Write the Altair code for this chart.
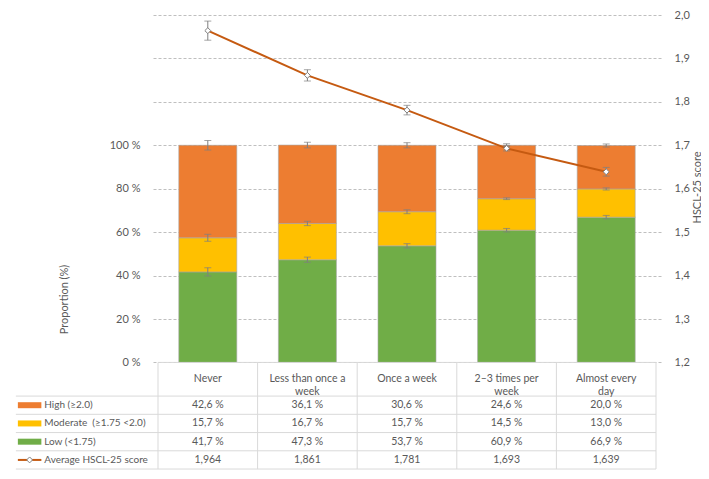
import altair as alt
import pandas as pd

# ---------------- data ----------------
categories = ["Never", "Less than once a week", "Once a week", "2–3 times per week", "Almost every day"]
header_labels = ["Never", "Less than once a\nweek", "Once a week", "2–3 times per\nweek", "Almost every\nday"]

high = [42.6, 36.1, 30.6, 24.6, 20.0]
moderate = [15.7, 16.7, 15.7, 14.5, 13.0]
low = [41.7, 47.3, 53.7, 60.9, 66.9]
score = [1.964, 1.861, 1.781, 1.693, 1.639]

# estimated error-bar half widths
high_err = [2.2, 1.3, 1.2, 0.7, 0.7]
moderate_err = [1.6, 1.0, 0.9, 0.4, 0.5]
low_err = [1.9, 1.2, 1.0, 0.8, 0.8]
score_err = [0.022, 0.013, 0.011, 0.006, 0.010]

series_names = ["Low (<1.75)", "Moderate  (≥1.75 <2.0)", "High (≥2.0)"]
series_colors = ["#70AD47", "#FFC000", "#ED7D31"]
line_label = "Average HSCL-25 score"

left_ticks = [0, 20, 40, 60, 80, 100]
right_ticks = [1.2, 1.3, 1.4, 1.5, 1.6, 1.7, 1.8, 1.9, 2.0]

# ---------------- styling / layout ----------------
FONT = "Lato"
TXT = "#595959"
GRID = "#BFBFBF"
TABLE_LINE = "#D9D9D9"
LINE_COLOR = "#C55A11"
ERR_COLOR = "#7F7F7F"

n = len(categories)
pos = [i + 0.5 for i in range(n)]

xscale = alt.Scale(domain=[0, n], nice=False, zero=False)
yscale = alt.Scale(domain=[-50, 160], nice=False, zero=False)
y2scale = alt.Scale(domain=[0.95, 2.0], nice=False, zero=False)

# table layout (in left-axis units, below 0)
row_edges = [0, -15.5, -23.9, -32.3, -40.7, -49.1]
left_edge = -1.427
swatch_x0, swatch_x1 = -1.407, -1.171
label_x = -1.142

# ---------------- frames ----------------
bar_rows = []
for i in range(n):
    base = 0.0
    for name, vals, errs in [(series_names[0], low, low_err),
                             (series_names[1], moderate, moderate_err),
                             (series_names[2], high, high_err)]:
        top = base + vals[i]
        bar_rows.append(dict(pos=pos[i], series=name, start=base, end=top,
                             lo=top - errs[i], hi=top + errs[i]))
        base = top
bars_df = pd.DataFrame(bar_rows)

score_df = pd.DataFrame(dict(pos=pos, score=score,
                             lo=[s - e for s, e in zip(score, score_err)],
                             hi=[s + e for s, e in zip(score, score_err)]))

X = lambda f: alt.X(f, type="quantitative", scale=xscale, axis=None)
Y = lambda f: alt.Y(f, type="quantitative", scale=yscale, axis=None)
Y2s = lambda f: alt.Y(f, type="quantitative", scale=y2scale, axis=None)

left_axis = alt.Axis(orient="left", values=left_ticks, grid=False, domain=False, ticks=False,
                     labelExpr="datum.value + ' %'", labelPadding=13,
                     title="Proportion (%)", titleX=-89, titleY=284,
                     titleAngle=270, titleAlign="center", titleBaseline="middle")
right_axis = alt.Axis(orient="right", values=right_ticks, grid=True, gridDash=[3, 2],
                      gridColor=GRID, gridWidth=1, domain=False, ticks=False,
                      labelExpr="replace(format(datum.value, '.1f'), '.', ',')",
                      labelPadding=13, title="HSCL-25 score", titleX=36, titleY=172,
                      titleAngle=270, titleAlign="center", titleBaseline="middle")

color_enc = alt.Color("series:N", scale=alt.Scale(domain=series_names, range=series_colors), legend=None)

bars = alt.Chart(bars_df).mark_bar(size=58, stroke="#A6A6A6", strokeWidth=0.6).encode(
    x=X("pos"), y=alt.Y("start:Q", scale=yscale, axis=left_axis), y2="end:Q", color=color_enc)

err_rule = alt.Chart(bars_df).mark_rule(color=ERR_COLOR, strokeWidth=1).encode(
    x=X("pos"), y=Y("lo"), y2="hi:Q")
err_cap_lo = alt.Chart(bars_df).mark_tick(orient="horizontal", size=7, thickness=1, color=ERR_COLOR).encode(
    x=X("pos"), y=Y("lo"))
err_cap_hi = alt.Chart(bars_df).mark_tick(orient="horizontal", size=7, thickness=1, color=ERR_COLOR).encode(
    x=X("pos"), y=Y("hi"))

# table lines
seg = []
seg.append(dict(x=0, x2=n, y=row_edges[0], y2=row_edges[0]))
for e in row_edges[1:]:
    seg.append(dict(x=left_edge, x2=n, y=e, y2=e))
for k in range(n + 1):
    seg.append(dict(x=k, x2=k, y=row_edges[0], y2=row_edges[-1]))
seg_df = pd.DataFrame(seg)
table_lines = alt.Chart(seg_df).mark_rule(color=TABLE_LINE, strokeWidth=1).encode(
    x=X("x"), x2="x2:Q", y=Y("y"), y2="y2:Q")

centers = [(row_edges[k] + row_edges[k + 1]) / 2 for k in range(len(row_edges) - 1)]

header_df = pd.DataFrame(dict(pos=pos, label=header_labels, y=[centers[0]] * n))
header_text = alt.Chart(header_df).mark_text(font=FONT, fontSize=10.5, color=TXT, lineBreak="\n",
                                             lineHeight=13, align="center", baseline="middle").encode(
    x=X("pos"), y=Y("y"), text="label:N")

table_series = [(series_names[2], high), (series_names[1], moderate), (series_names[0], low)]
cells = []
for r, (name, vals) in enumerate(table_series):
    for i in range(n):
        cells.append(dict(pos=pos[i], y=centers[r + 1], label=f"{vals[i]:.1f} %".replace(".", ",")))
for i in range(n):
    cells.append(dict(pos=pos[i], y=centers[4], label=f"{score[i]:.3f}".replace(".", ",")))
cells_df = pd.DataFrame(cells)
cell_text = alt.Chart(cells_df).mark_text(font=FONT, fontSize=10.5, color=TXT, align="center",
                                          baseline="middle").encode(
    x=X("pos"), y=Y("y"), text="label:N")

# keep the double space visible in SVG
display_names = [s.replace("  ", "\u00a0 ") for s in [series_names[2], series_names[1], series_names[0]]]
row_lab_df = pd.DataFrame(dict(x=[label_x] * 4,
                               y=centers[1:],
                               label=display_names + [line_label]))
row_labels = alt.Chart(row_lab_df).mark_text(font=FONT, fontSize=10, color=TXT, align="left",
                                             baseline="middle").encode(
    x=X("x"), y=Y("y"), text="label:N")

sw_df = pd.DataFrame(dict(x=[swatch_x0] * 3, x2=[swatch_x1] * 3, y=centers[1:4],
                          series=[series_names[2], series_names[1], series_names[0]]))
swatches = alt.Chart(sw_df).mark_rule(strokeWidth=6).encode(
    x=X("x"), x2="x2:Q", y=Y("y"), color=color_enc)

ln_df = pd.DataFrame(dict(x=[swatch_x0], x2=[swatch_x1], xm=[(swatch_x0 + swatch_x1) / 2], y=[centers[4]]))
legend_line = alt.Chart(ln_df).mark_rule(strokeWidth=2, color=LINE_COLOR).encode(
    x=X("x"), x2="x2:Q", y=Y("y"))
legend_pt = alt.Chart(ln_df).mark_point(shape="diamond", size=35, filled=True, fill="white",
                                        stroke="#808080", strokeWidth=1, opacity=1).encode(
    x=X("xm"), y=Y("y"))

# right axis layers
line = alt.Chart(score_df).mark_line(color=LINE_COLOR, strokeWidth=2).encode(
    x=X("pos"), y=alt.Y("score:Q", scale=y2scale, axis=right_axis))
s_rule = alt.Chart(score_df).mark_rule(color=ERR_COLOR, strokeWidth=1).encode(
    x=X("pos"), y=Y2s("lo"), y2="hi:Q")
s_cap_lo = alt.Chart(score_df).mark_tick(orient="horizontal", size=7, thickness=1, color=ERR_COLOR).encode(
    x=X("pos"), y=Y2s("lo"))
s_cap_hi = alt.Chart(score_df).mark_tick(orient="horizontal", size=7, thickness=1, color=ERR_COLOR).encode(
    x=X("pos"), y=Y2s("hi"))
pts = alt.Chart(score_df).mark_point(shape="diamond", size=35, filled=True, fill="white",
                                     stroke="#808080", strokeWidth=1, opacity=1).encode(
    x=X("pos"), y=Y2s("score"))

chart = alt.layer(
    bars, line, table_lines, err_rule, err_cap_lo, err_cap_hi, header_text,
    cell_text, row_labels, swatches, legend_line, legend_pt,
    s_rule, s_cap_lo, s_cap_hi, pts
).resolve_scale(y="independent").properties(
    width=508, height=456,
    autosize=alt.AutoSizeParams(type="none"),
    padding={"left": 145, "top": 7, "right": 40, "bottom": 0},
).configure_view(stroke=None).configure_axis(
    labelFont=FONT, titleFont=FONT, labelColor=TXT, titleColor=TXT,
    labelFontSize=11, titleFontSize=11, titleFontWeight="normal"
)

chart.save("out.html", embed_options={"renderer": "svg", "actions": False})
